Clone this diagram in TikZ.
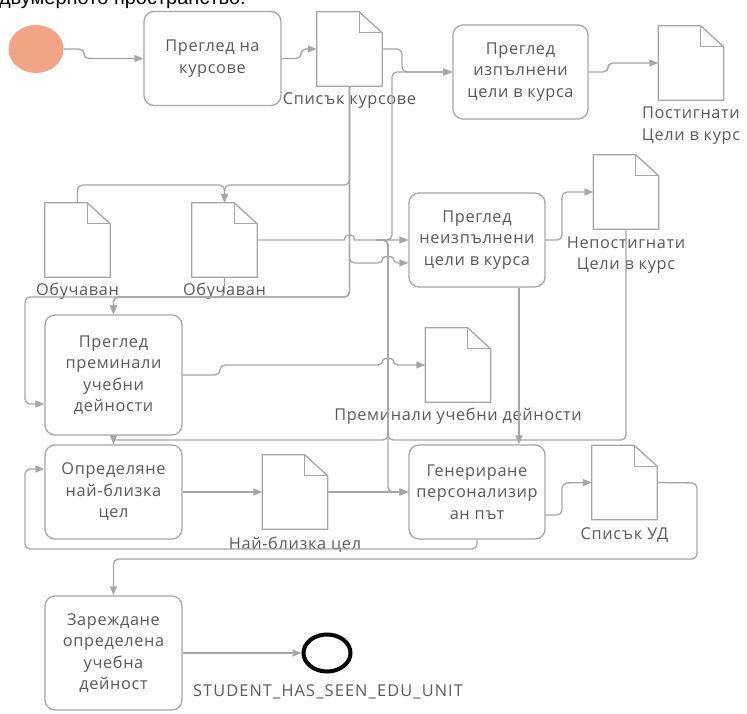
\documentclass[tikz,border=0pt]{standalone}
\usepackage{fontspec}
\setmainfont{Open Sans}[LetterSpace=4]
\newfontfamily\topfont{Liberation Sans}
\usetikzlibrary{arrows.meta,shapes.geometric,calc}
\definecolor{lgray}{HTML}{A6A6A6}
\definecolor{tgray}{HTML}{595959}
\definecolor{salmon}{HTML}{F2A584}
\newcommand\docpath[1]{%
  \draw[docline] (#1.south west) -- (#1.north west) -- ($(#1.north east)+(-23,0)$) -- ($(#1.north east)+(0,21)$) -- (#1.south east) -- cycle;
  \draw[docline] ($(#1.north east)+(-23,0)$) -- ($(#1.north east)+(-23,21)$) -- ($(#1.north east)+(0,21)$);}
\begin{document}
\begin{tikzpicture}[x=1pt,y=-1pt,
  txt/.style={text=tgray,font=\fontsize{16.3}{21.5}\selectfont,align=center,inner sep=0pt},
  task/.style={txt,draw=lgray,line width=1.3pt,rounded corners=10pt,fill=white,minimum width=137pt,minimum height=94pt},
  doc/.style={draw=none,fill=white,minimum width=65pt,minimum height=74pt,inner sep=0pt},
  docline/.style={draw=lgray,line width=1.3pt,line join=miter},
  lbl/.style={txt},
  line/.style={draw=lgray,line width=1.3pt,rounded corners=5pt},
  conn/.style={line,-{Triangle[length=9pt,width=7pt]}},
  tip/.style={draw=lgray,line width=1.3pt,-{Triangle[length=9pt,width=7pt]}}]
\useasboundingbox (0,0) rectangle (747,714);
\node[anchor=base east,inner sep=0pt,font=\topfont\fontsize{20}{22}\selectfont] (toptext) at (246,4.5) {двумерното пространство.};
% nodes
\node[ellipse,fill=salmon,minimum width=55pt,minimum height=48pt,inner sep=0pt] (start) at (36,49) {};
\node[task] (box1) at (212.5,58.5) {Преглед на\\курсове};
\node[doc] (doc1) at (349.5,49) {}; \docpath{doc1}
\node[lbl] (doc1l) at (349.5,101) {Списък курсове};
\node[task,minimum width=135pt] (box2) at (520.5,72) {Преглед\\изпълнени\\цели в курса};
\node[doc] (docP) at (691,63) {}; \docpath{docP}
\node[lbl] (docPl) at (691,125.5) {Постигнати\\Цели в курс};
\node[doc] (ob1) at (77.5,240) {}; \docpath{ob1}
\node[lbl] (ob1l) at (77.5,291) {Обучаван};
\node[doc] (ob2) at (224.5,240) {}; \docpath{ob2}
\node[lbl] (ob2l) at (224.5,291) {Обучаван};
\node[task,minimum width=136pt] (box4) at (477,240) {Преглед\\неизпълнени\\цели в курса};
\node[doc] (docN) at (626,192) {}; \docpath{docN}
\node[lbl] (docNl) at (626,255) {Непостигнати\\Цели в курс};
\node[task,minimum height=120pt] (box3) at (113.5,375) {Преглед\\преминали\\учебни\\дейности};
\node[doc] (doc3) at (458,365) {}; \docpath{doc3}
\node[lbl] (doc3l) at (458,416) {Преминали учебни дейности};
\node[task] (box5) at (113.5,492) {Определяне\\най-близка\\цел};
\node[doc] (doc4) at (295,492) {}; \docpath{doc4}
\node[lbl] (doc4l) at (295,545) {Най-близка цел};
\node[task,minimum width=136pt] (box6) at (477,492) {Генериране\\персонализир\\ан път};
\node[doc] (doc5) at (624.5,482.5) {}; \docpath{doc5}
\node[lbl] (doc5l) at (624.5,535) {Списък УД};
\node[task,minimum height=114pt] (box7) at (113.5,653) {Зареждане\\определена\\учебна\\дейност};
\node[ellipse,draw=black,line width=4pt,minimum width=47pt,minimum height=37pt,inner sep=0pt] (end) at (327,653) {};
\node[lbl,font=\addfontfeatures{LetterSpace=7}\fontsize{16.3}{21.5}\selectfont] (endl) at (328,692) {STUDENT\_HAS\_SEEN\_EDU\_UNIT};
% junction coordinates
\coordinate (jA) at (376,240);
\coordinate (j5) at (113.5,438);
% connectors
\draw[conn] (start.east) -- (84,49) -- (84,58.5) -- (box1.west);
\draw[conn] (box1.east) -- (301,58.5) -- (301,49) -- (doc1.west);
\draw[conn] (doc1.east) -- (402,49) -- (402,72) -- (box2.west);
\draw[conn] (box2.east) -- (608,72) -- (608,63) -- (docP.west);
\draw[conn] (doc1.south) -- (349.5,185) -- (224.5,185) -- (ob2.north);
\draw[conn] (ob1.north) -- (77.5,185) -- (224.5,185) -- (ob2.north);
\draw[conn] (doc1.south) -- (349.5,297) -- (113.5,297) -- (box3.north);
\draw[conn] (doc1.south) -- (349.5,297) -- (25,297) -- (25,404) -- ($(box3.west)+(0,29)$);
\draw[conn] (ob2.south) -- (224.5,297) -- (113.5,297) -- (box3.north);
\draw[conn] (doc1.south) -- (349.5,263) -- (383,263) .. controls (383,256) and (393,256) .. (393,263) -- ($(box4.west)+(0,23)$);
\draw[conn,rounded corners=0pt] (ob2.east) -- (344.5,240) .. controls (344.5,233) and (354.5,233) .. (354.5,240) -- (box4.west);
\draw[conn] (jA) -- (392,240) -- (392,72) -- (box2.west);
\draw[conn] (jA) -- (388,240) -- (388,492) -- (box6.west);
\draw[line] (jA) -- (388,240) -- (388,440) -- (113.5,440);
\draw[tip] (j5) -- (box5.north);
\draw[line] (jA) -- (388,240) -- (388,440) -- (519,440);
\draw[line] (docN.south) -- (626,440) -- (519,440);
\draw[conn] ($(box4.south)+(42,0)$) -- ($(box6.north)+(42,0)$);
\draw[conn] (box4.east) -- (562,240) -- (562,192) -- (docN.west);
\draw[conn] (box3.east) -- (220,375) -- (220,365) -- (383,365) .. controls (383,358) and (393,358) .. (393,365) -- (doc3.west);
\draw[conn] (box5.east) -- (doc4.west);
\draw[conn] (doc4.east) -- (box6.west);
\draw[conn] (box6.south) -- (477,549) -- (25,549) -- (25,469) -- ($(box5.west)+(0,-23)$);
\draw[conn] ($(box6.east)+(0,23)$) -- (562,515) -- (562,483) -- (doc5.west);
\draw[conn] (doc5.east) -- (697,483) -- (697,559) -- (113.5,559) -- (box7.north);
\draw[conn] (box7.east) -- (end.west);
\end{tikzpicture}
\end{document}
